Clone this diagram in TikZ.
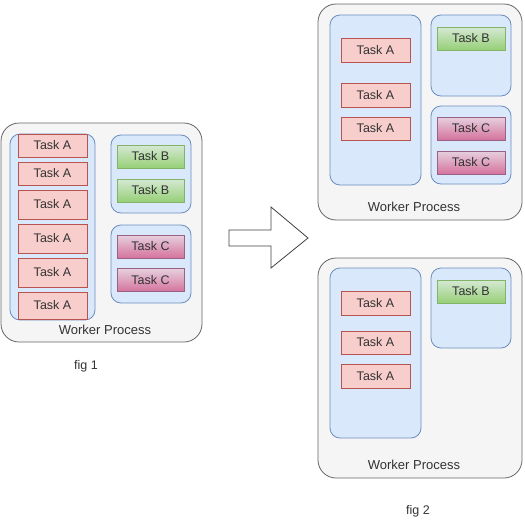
\documentclass[tikz,border=0pt]{standalone}
\usepackage{fontspec}
\setmainfont{Liberation Sans}
\definecolor{outerfill}{HTML}{F5F5F5}
\definecolor{outerdraw}{HTML}{666666}
\definecolor{grpfill}{HTML}{DAE8FC}
\definecolor{grpdraw}{HTML}{6C8EBF}
\definecolor{afill}{HTML}{F8CECC}
\definecolor{adraw}{HTML}{B85450}
\definecolor{btop}{HTML}{D5E8D4}
\definecolor{bbot}{HTML}{97D077}
\definecolor{bdraw}{HTML}{82B366}
\definecolor{ctop}{HTML}{E6D0DE}
\definecolor{cbot}{HTML}{D5739D}
\definecolor{cdraw}{HTML}{996185}
\definecolor{txt}{HTML}{333333}
\begin{document}
\begin{tikzpicture}[x=1pt,y=-1pt,
  every node/.style={inner sep=0pt, outer sep=0pt, text=txt, font=\fontsize{12.5}{14}\selectfont},
  outerbox/.style={draw=outerdraw, fill=outerfill, rounded corners=18pt, anchor=north west, line width=0.8pt},
  grpbox/.style={draw=grpdraw, fill=grpfill, rounded corners=10pt, anchor=north west, line width=0.8pt},
  taska/.style={draw=adraw, fill=afill, minimum width=69pt, line width=0.8pt},
  taskb/.style={draw=bdraw, top color=btop, bottom color=bbot, minimum width=67pt, minimum height=23pt, line width=0.8pt},
  taskc/.style={draw=cdraw, top color=ctop, bottom color=cbot, minimum width=67pt, minimum height=23pt, line width=0.8pt},
  wlabel/.style={font=\fontsize{13}{15}\selectfont},
  figlabel/.style={font=\fontsize{12.5}{14}\selectfont}
]
\useasboundingbox (0,0) rectangle (525,522);

% ---------- fig 1 ----------
\node[outerbox, minimum width=201pt, minimum height=219pt] (w1) at (1,123) {};
\node[grpbox, minimum width=85pt, minimum height=186pt] (g1a) at (10,134) {};
\node[grpbox, minimum width=80pt, minimum height=78pt] (g1b) at (111,135) {};
\node[grpbox, minimum width=80pt, minimum height=78pt] (g1c) at (111,225) {};
\node[taska, minimum height=23pt] (a11) at (52.5,145.5) {Task A};
\node[taska, minimum height=23pt] (a12) at (52.5,173.5) {Task A};
\node[taska, minimum height=29pt] (a13) at (52.5,204.5) {Task A};
\node[taska, minimum height=29pt] (a14) at (52.5,238.5) {Task A};
\node[taska, minimum height=29pt] (a15) at (52.5,272.5) {Task A};
\node[taska, minimum height=27pt] (a16) at (52.5,305.5) {Task A};
\node[taskb] (b11) at (150.5,156.5) {Task B};
\node[taskb] (b12) at (150.5,190.5) {Task B};
\node[taskc] (c11) at (150.5,246.5) {Task C};
\node[taskc] (c12) at (150.5,280) {Task C};
\node[wlabel] (wl1) at (105,330) {Worker Process};
\node[figlabel] (f1) at (86,366) {fig 1};

% ---------- arrow ----------
\draw[draw=black!75, fill=white, line width=0.8pt]
  (229,230) -- (271,230) -- (271,207) -- (308,238) -- (271,268) -- (271,246) -- (229,246) -- cycle;

% ---------- fig 2 top ----------
\node[outerbox, minimum width=204pt, minimum height=216pt] (w2) at (318,4) {};
\node[grpbox, minimum width=91pt, minimum height=170pt] (g2a) at (330,15) {};
\node[grpbox, minimum width=80pt, minimum height=81pt] (g2b) at (431,15) {};
\node[grpbox, minimum width=80pt, minimum height=78pt] (g2c) at (431,106) {};
\node[taska, minimum height=24pt] (a21) at (375.5,50) {Task A};
\node[taska, minimum height=24pt] (a22) at (375.5,95) {Task A};
\node[taska, minimum height=23pt] (a23) at (375.5,128.5) {Task A};
\node[taskb, minimum width=68pt] (b21) at (471,38.5) {Task B};
\node[taskc, minimum width=68pt] (c21) at (471,128.5) {Task C};
\node[taskc, minimum width=68pt] (c22) at (471,162.5) {Task C};
\node[wlabel] (wl2) at (414,207) {Worker Process};

% ---------- fig 2 bottom ----------
\node[outerbox, minimum width=204pt, minimum height=220pt] (w3) at (318,258) {};
\node[grpbox, minimum width=91pt, minimum height=170pt] (g3a) at (330,268) {};
\node[grpbox, minimum width=80pt, minimum height=80pt] (g3b) at (431,268) {};
\node[taska, minimum height=24pt] (a31) at (375.5,303) {Task A};
\node[taska, minimum height=23pt] (a32) at (375.5,342.5) {Task A};
\node[taska, minimum height=24pt] (a33) at (375.5,376) {Task A};
\node[taskb, minimum width=68pt] (b31) at (471,291.5) {Task B};
\node[wlabel] (wl3) at (414,465) {Worker Process};
\node[figlabel] (f2) at (418,511) {fig 2};
\end{tikzpicture}
\end{document}
